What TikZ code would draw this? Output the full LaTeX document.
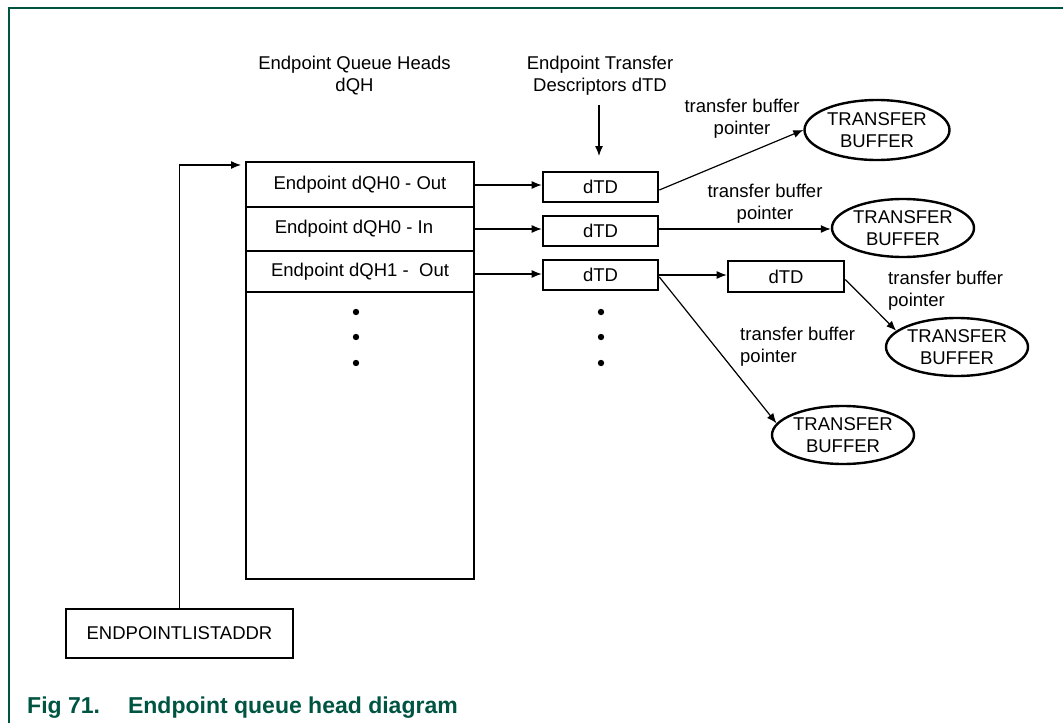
\documentclass[tikz,border=0pt]{standalone}
\usepackage{fontspec}
\setmainfont{Liberation Sans}
\usetikzlibrary{shapes.geometric,arrows.meta}
\definecolor{nxpgreen}{RGB}{0,84,66}
\begin{document}
\begin{tikzpicture}[x=1pt,y=-1pt,
  txt/.style={font=\fontsize{18.5}{22}\selectfont, inner sep=0pt},
  rowbox/.style={draw, line width=2.6pt, minimum width=228pt, inner sep=0pt, font=\fontsize{18.5}{22}\selectfont},
  tdbox/.style={draw, line width=2.6pt, minimum width=115pt, minimum height=30pt, inner sep=0pt, font=\fontsize{18.5}{22}\selectfont},
  buf/.style={draw, ellipse, line width=2.4pt, minimum width=142pt, minimum height=58pt, inner sep=0pt, align=center, font=\fontsize{18.5}{22}\selectfont},
  arr/.style={line width=1.2pt, -{Latex[length=10pt,width=8pt]}},
  frame/.style={draw=nxpgreen, line width=2pt},
  dot/.style={fill=black}
]
\useasboundingbox (0,0) rectangle (1063,723);
% frame
\draw[frame] (9,723) -- (9,8) -- (1063,8);

% headers
\node[txt, align=center] (h1) at (354.5,76) {Endpoint Queue Heads\\dQH};
\node[txt, align=center] (h2) at (600,76) {Endpoint Transfer\\Descriptors dTD};
\coordinate (dtop) at (599,105);
\coordinate (dbot) at (599,156);
\draw[arr] (dtop) -- (dbot);

% queue head block
\node[rowbox, minimum height=45pt] (row0) at (360,184.5) {Endpoint dQH0 - Out};
\node[rowbox, minimum height=44pt] (row1) at (360,229) {\hspace*{-12pt}Endpoint dQH0 - In};
\node[rowbox, minimum height=41pt] (row2) at (360,271.5) {Endpoint dQH1 -\ \ Out};
\node[rowbox, minimum height=287pt] (rest) at (360,435.5) {};

\fill[dot] (356,312) circle (3.2);
\fill[dot] (356,337) circle (3.2);
\fill[dot] (356,363) circle (3.2);

% dTDs
\node[tdbox] (d1) at (600.5,187) {dTD};
\node[tdbox] (d2) at (600.5,231) {dTD};
\node[tdbox] (d3) at (600.5,275) {dTD};
\node[tdbox, minimum width=116pt, minimum height=31pt] (d4) at (786,276.5) {dTD};

\fill[dot] (601,312) circle (3.2);
\fill[dot] (601,337) circle (3.2);
\fill[dot] (601,363) circle (3.2);

\draw[arr] (row0.east |- 0,185) -- (d1.west |- 0,185);
\draw[arr] (row1.east) -- (d2.west |- row1.east);
\draw[arr] (row2.east |- 0,274) -- (d3.west |- 0,274);
\draw[arr] (d3.east) -- (d3.east -| d4.west);

% transfer buffers
\node[buf, minimum width=145pt, minimum height=60pt] (e1) at (877,130) {TRANSFER\\BUFFER};
\node[buf] (e2) at (903,228) {TRANSFER\\BUFFER};
\node[buf] (e3) at (957,347) {TRANSFER\\BUFFER};
\node[buf] (e4) at (843,435) {TRANSFER\\BUFFER};

\draw[arr] ([yshift=-3pt]d1.east) -- (e1.west);
\draw[arr] (d2.east |- 0,229) -- (e2.west |- 0,229);
\draw[arr] ([yshift=-3pt]d4.east) -- (e3.165);
\draw[arr] ([yshift=-2pt]d3.east) -- (e4.170);

% labels
\node[txt, align=center] (l1) at (742,119) {transfer buffer\\pointer};
\node[txt, align=center] (l2) at (765,204) {transfer buffer\\pointer};
\node[txt, align=left, anchor=west] (l3) at (888,291) {transfer buffer\\pointer};
\node[txt, align=left, anchor=west] (l4) at (740,347) {transfer buffer\\pointer};

% endpoint list address
\node[draw, line width=2.6pt, minimum width=227pt, minimum height=49pt, inner sep=0pt, font=\fontsize{18.5}{22}\selectfont] (ela) at (179.5,633.5) {ENDPOINTLISTADDR};
\coordinate (qin) at (241,165);
\draw[arr] (ela.north) |- (qin);

% caption
\node[anchor=base west, inner sep=0pt, text=nxpgreen, font=\fontsize{23}{27}\selectfont\bfseries] (cap) at (27,713) {Fig 71.\hspace{28pt}Endpoint queue head diagram};
\end{tikzpicture}
\end{document}
